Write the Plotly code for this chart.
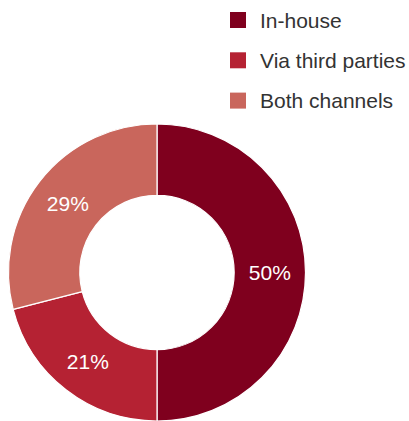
import plotly.graph_objects as go

labels = ["In-house", "Via third parties", "Both channels"]
values = [50, 21, 29]
colors = ["#7f001e", "#b52233", "#c9665c"]

W, H = 409, 421
FONT = "Liberation Sans, Arial, Helvetica, sans-serif"

fig = go.Figure()
fig.add_trace(go.Pie(
    labels=labels,
    values=values,
    hole=0.52,
    sort=False,
    direction="clockwise",
    rotation=0,
    marker=dict(colors=colors, line=dict(color="white", width=1.2)),
    texttemplate="%{value}%",
    textposition="inside",
    insidetextorientation="horizontal",
    textfont=dict(color="white", size=21, family=FONT),
    domain=dict(x=[8.5 / W, 305.5 / W], y=[0, 297 / H]),
    showlegend=False,
    hoverinfo="label+percent",
))

# manual legend
shapes = []
annotations = []
for i, (lab, col) in enumerate(zip(labels, colors)):
    cy = 20 + i * 40.3
    shapes.append(dict(type="rect", xref="paper", yref="paper",
                       x0=230 / W, x1=246 / W,
                       y0=1 - (cy + 8) / H, y1=1 - (cy - 8) / H,
                       fillcolor=col, line=dict(width=0)))
    annotations.append(dict(xref="paper", yref="paper", x=258 / W, y=1 - cy / H,
                            text=lab, showarrow=False, xanchor="left", yanchor="middle",
                            font=dict(size=21, color="#333333", family=FONT)))

fig.update_layout(
    width=W, height=H,
    margin=dict(l=0, r=0, t=0, b=0),
    paper_bgcolor="white",
    plot_bgcolor="white",
    shapes=shapes,
    annotations=annotations,
)

fig.write_html("out.html", config={"displayModeBar": False},
               post_script="document.body.style.margin='0px';")
